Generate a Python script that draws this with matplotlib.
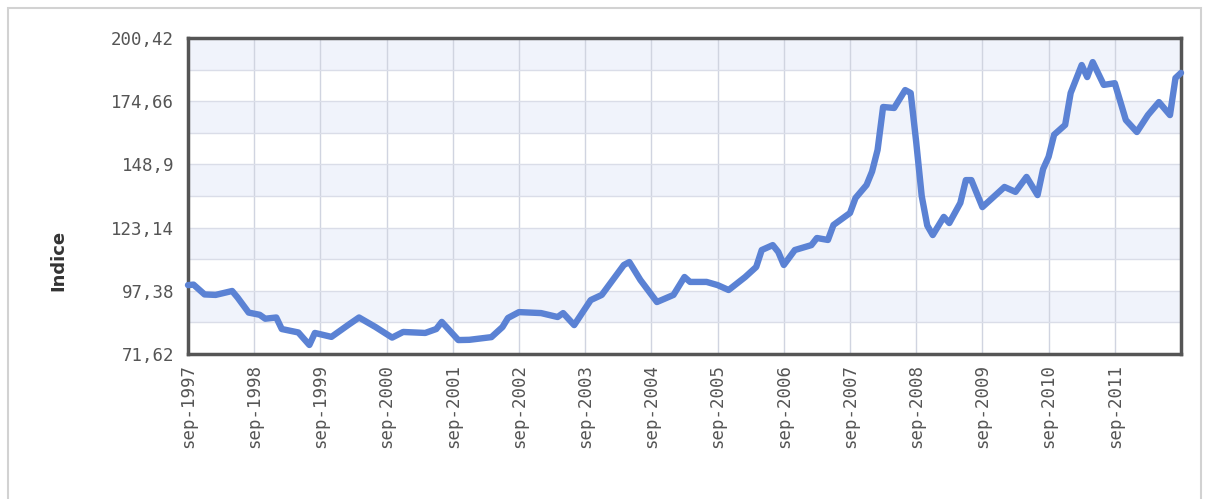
import matplotlib
matplotlib.use("Agg")
import matplotlib.pyplot as plt
from matplotlib.patches import Rectangle
import numpy as np

# Monthly index values (sep-1997 .. sep-2012)
dates = ['1997-09', '1997-10', '1997-12', '1998-02', '1998-05', '1998-06', '1998-08',
         '1998-10', '1998-11', '1999-01', '1999-02', '1999-05', '1999-07', '1999-08',
         '1999-11', '2000-02', '2000-04', '2000-07', '2000-10', '2000-12', '2001-04',
         '2001-06', '2001-07', '2001-10', '2001-12', '2002-04', '2002-06', '2002-07',
         '2002-09', '2003-01', '2003-04', '2003-05', '2003-07', '2003-10', '2003-12',
         '2004-02', '2004-04', '2004-05', '2004-07', '2004-10', '2005-01', '2005-03',
         '2005-04', '2005-07', '2005-09', '2005-11', '2006-02', '2006-04', '2006-05',
         '2006-07', '2006-08', '2006-09', '2006-11', '2007-02', '2007-03', '2007-05',
         '2007-06', '2007-09', '2007-10', '2007-12', '2008-01', '2008-02', '2008-03',
         '2008-05', '2008-07', '2008-08', '2008-09', '2008-10', '2008-11', '2008-12',
         '2009-02', '2009-03', '2009-05', '2009-06', '2009-07', '2009-09', '2010-01',
         '2010-03', '2010-05', '2010-07', '2010-08', '2010-09', '2010-10', '2010-12',
         '2011-01', '2011-03', '2011-04', '2011-05', '2011-07', '2011-09', '2011-11',
         '2012-01', '2012-03', '2012-05', '2012-07', '2012-08', '2012-09']
values = [99.7, 99.9, 95.9, 95.7, 97.3, 94.6, 88.5,
          87.6, 86.0, 86.5, 81.8, 80.4, 75.3, 80.2,
          78.6, 83.4, 86.5, 82.6, 78.3, 80.6, 80.2,
          81.8, 84.7, 77.3, 77.4, 78.5, 82.6, 86.3,
          88.7, 88.3, 86.7, 88.3, 83.4, 93.6, 95.7,
          101.8, 107.9, 109.1, 101.8, 92.8, 95.7, 103.0,
          101.0, 101.0, 99.7, 97.7, 103.0, 107.1, 114.0,
          116.0, 113.2, 107.9, 114.0, 116.0, 118.9, 118.1,
          124.2, 129.1, 135.2, 140.5, 146.0, 154.8, 172.3,
          171.9, 179.2, 178.0, 158.0, 136.0, 124.0, 120.1,
          127.5, 125.0, 133.2, 142.5, 142.5, 131.5, 139.7,
          137.7, 143.8, 136.4, 147.0, 152.0, 161.0, 165.0,
          178.0, 189.4, 184.5, 190.6, 181.3, 182.0, 167.0,
          162.1, 169.0, 174.3, 169.0, 184.1, 186.2]

tick_years = list(range(1997, 2012))
tick_labels = ['sep-%d' % y for y in tick_years]
y_ticks = [71.62, 97.38, 123.14, 148.9, 174.66, 200.42]
y_labels = ['71,62', '97,38', '123,14', '148,9', '174,66', '200,42']

# month offset from sep-1997
x = np.array([(int(d[:4]) - 1997) * 12 + int(d[5:]) - 9 for d in dates])
x_ticks = [(y - 1997) * 12 for y in tick_years]

W, H = 1206, 499
fig = plt.figure(figsize=(W / 100, H / 100), dpi=100)
fig.patch.set_facecolor('white')
ax = fig.add_axes([188 / W, 1 - 354 / H, (1181 - 188) / W, (354 - 38) / H])

# outer light frame
fig.patches.append(Rectangle((8 / W, -0.1), (1201 - 8) / W, (H - 8) / H + 0.1,
                             transform=fig.transFigure, fill=False,
                             edgecolor='#d2d2d2', lw=1.5))

# alternating bands
ymin, ymax = y_ticks[0], y_ticks[-1]
edges = np.linspace(ymin, ymax, 11)
for i in range(10):
    if (9 - i) % 2 == 0:
        ax.axhspan(edges[i], edges[i + 1], color='#f0f3fb', lw=0, zorder=0)

ax.plot(x, values, color='#5b82d4', lw=4.6, solid_joinstyle='round',
        solid_capstyle='round', zorder=3, clip_on=False)

ax.set_xlim(0, 180)
ax.set_ylim(ymin, ymax)
ax.set_yticks(y_ticks)
ax.set_yticklabels(y_labels)
ax.set_yticks(edges, minor=True)
ax.set_xticks(x_ticks)
ax.set_xticklabels(tick_labels, rotation=90)

ax.grid(True, which='both', axis='y', color='#dadde8', lw=1, zorder=1)
ax.grid(True, which='major', axis='x', color='#d0d4e0', lw=1, zorder=1)
ax.set_axisbelow(True)

ax.tick_params(axis='both', which='both', length=0)
ax.tick_params(axis='y', pad=10, labelsize=12.5, labelcolor='#555555')
ax.tick_params(axis='x', pad=7, labelsize=12.5, labelcolor='#555555')
for lab in ax.get_xticklabels() + ax.get_yticklabels():
    lab.set_family('DejaVu Sans Mono')

for s in ax.spines.values():
    s.set_color('#555555')
    s.set_linewidth(2.5)

ax.set_ylabel('Indice', fontsize=13, fontweight='bold', color='#333333')
ax.yaxis.set_label_coords(-0.121, 0.297)

fig.savefig('out.png', dpi=100)
